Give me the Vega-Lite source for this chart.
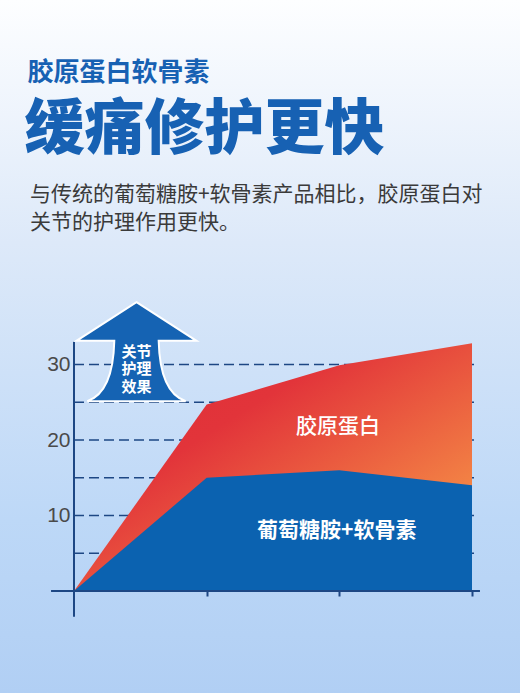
{
  "$schema": "https://vega.github.io/schema/vega-lite/v6.json",
  "width": 520,
  "height": 693,
  "autosize": {"type": "fit", "contains": "padding"},
  "padding": 0,
  "background": "#ffffff",
  "view": {
    "stroke": null,
    "fill": {
      "gradient": "linear",
      "x1": 0, "y1": 0, "x2": 0, "y2": 1,
      "stops": [
        {"offset": 0, "color": "#fdfeff"},
        {"offset": 0.35, "color": "#dde9f9"},
        {"offset": 0.75, "color": "#bdd8f7"},
        {"offset": 1, "color": "#b1cff4"}
      ]
    }
  },
  "config": {"font": "Noto Sans CJK SC"},
  "datasets": {
    "effect": [
      {"stage": 0, "glucosamine": 0, "collagen": 0},
      {"stage": 1, "glucosamine": 15, "collagen": 24.7},
      {"stage": 2, "glucosamine": 16, "collagen": 29.9},
      {"stage": 3, "glucosamine": 14, "collagen": 32.8}
    ],
    "grid": [
      {"level": 5}, {"level": 10}, {"level": 15},
      {"level": 20}, {"level": 25}, {"level": 30}
    ],
    "one": [{}]
  },
  "layer": [
    {
      "data": {"name": "grid"},
      "mark": {"type": "rule", "color": "#1d4784", "strokeWidth": 1.6, "strokeDash": [10, 5]},
      "encoding": {
        "x": {"datum": 0, "type": "quantitative",
              "scale": {"domain": [-0.5578, 3.3618], "nice": false, "zero": false},
              "axis": {"title": null, "orient": "bottom", "offset": -102, "values": [1, 2, 3],
                       "labels": false, "domain": false, "grid": false,
                       "ticks": true, "tickSize": 5, "tickWidth": 2, "tickColor": "#1d4784"}},
        "x2": {"datum": 3.045},
        "y": {"field": "level", "type": "quantitative",
              "scale": {"domain": [-13.51, 78.28], "nice": false, "zero": false},
              "axis": {"title": null, "orient": "left", "offset": -74, "values": [10, 20, 30],
                       "domain": false, "grid": false, "ticks": false,
                       "labelPadding": 4, "labelFontSize": 21, "labelColor": "#4a4a4a",
                       "labelFont": "Liberation Sans"}}
      }
    },
    {
      "data": {"name": "effect"},
      "mark": {
        "type": "area",
        "color": {
          "gradient": "linear",
          "x1": 0, "y1": 0, "x2": 1, "y2": 1,
          "stops": [
            {"offset": 0, "color": "#df2d37"},
            {"offset": 0.35, "color": "#e2343a"},
            {"offset": 0.85, "color": "#f58e46"},
            {"offset": 1, "color": "#f7964a"}
          ]
        }
      },
      "encoding": {
        "x": {"field": "stage", "type": "quantitative"},
        "y": {"field": "collagen", "type": "quantitative"},
        "y2": {"datum": 0}
      }
    },
    {
      "data": {"name": "effect"},
      "mark": {"type": "area", "color": "#0b62b0"},
      "encoding": {
        "x": {"field": "stage", "type": "quantitative"},
        "y": {"field": "glucosamine", "type": "quantitative"},
        "y2": {"datum": 0}
      }
    },
    {
      "data": {"name": "one"},
      "mark": {"type": "rule", "color": "#1d4784", "strokeWidth": 2},
      "encoding": {
        "x": {"datum": -0.173},
        "x2": {"datum": 3.06},
        "y": {"datum": 0}
      }
    },
    {
      "data": {"name": "one"},
      "mark": {"type": "rule", "color": "#1d4784", "strokeWidth": 2},
      "encoding": {
        "x": {"datum": 0},
        "y": {"datum": -3.4},
        "y2": {"datum": 33}
      }
    },
    {
      "data": {"name": "one"},
      "mark": {
        "type": "point",
        "shape": "M0,-0.825 L1,-0.18 L0.37,-0.18 Q0.39,0.68 0.82,0.825 L-0.82,0.825 Q-0.39,0.68 -0.37,-0.18 L-1,-0.18 Z",
        "size": 14400,
        "filled": true,
        "fill": "#1563b3",
        "fillOpacity": 1,
        "stroke": "#ffffff",
        "strokeWidth": 2,
        "opacity": 1
      },
      "encoding": {
        "x": {"datum": 0.471},
        "y": {"datum": 31.7}
      }
    },
    {
      "data": {"name": "one"},
      "mark": {"type": "text", "color": "#ffffff", "fontSize": 15, "fontWeight": "bold",
               "lineHeight": 17.5, "align": "center", "baseline": "middle"},
      "encoding": {
        "x": {"datum": 0.471},
        "y": {"datum": 31.66},
        "text": {"value": ["关节", "护理", "效果"]}
      }
    },
    {
      "data": {"name": "one"},
      "mark": {"type": "text", "color": "#ffffff", "fontSize": 21, "fontWeight": 500,
               "align": "center", "baseline": "middle"},
      "encoding": {
        "x": {"datum": 1.99},
        "y": {"datum": 21.7},
        "text": {"value": "胶原蛋白"}
      }
    },
    {
      "data": {"name": "one"},
      "mark": {"type": "text", "color": "#ffffff", "fontSize": 21, "fontWeight": "bold",
               "align": "center", "baseline": "middle"},
      "encoding": {
        "x": {"datum": 1.98},
        "y": {"datum": 7.95},
        "text": {"value": "葡萄糖胺+软骨素"}
      }
    },
    {
      "data": {"name": "one"},
      "mark": {"type": "text", "color": "#1761b3", "fontSize": 26, "fontWeight": "bold",
               "align": "left", "baseline": "middle"},
      "encoding": {
        "x": {"datum": -0.35},
        "y": {"datum": 68.6},
        "text": {"value": "胶原蛋白软骨素"}
      }
    },
    {
      "data": {"name": "one"},
      "mark": {"type": "text", "color": "#1761b3", "fontSize": 60, "fontWeight": 900,
               "align": "left", "baseline": "middle"},
      "encoding": {
        "x": {"datum": -0.374},
        "y": {"datum": 60.95},
        "text": {"value": "缓痛修护更快"}
      }
    },
    {
      "data": {"name": "one"},
      "mark": {"type": "text", "color": "#3a3a3a", "fontSize": 21, "lineHeight": 28,
               "align": "left", "baseline": "middle"},
      "encoding": {
        "x": {"datum": -0.332},
        "y": {"datum": 52.45},
        "text": {"value": ["与传统的葡萄糖胺+软骨素产品相比，胶原蛋白对", "关节的护理作用更快。"]}
      }
    }
  ]
}
